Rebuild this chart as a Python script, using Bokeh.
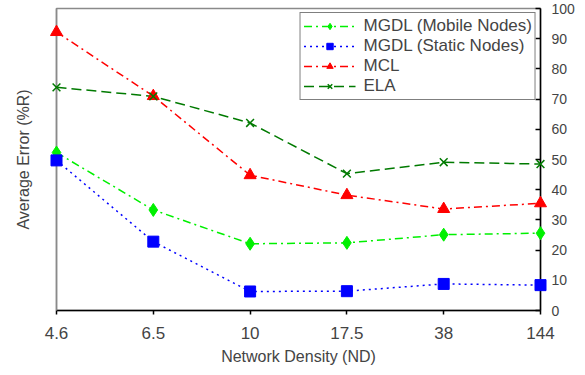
from bokeh.plotting import figure
from bokeh.models import Range1d, LinearAxis, FixedTicker, Legend, LegendItem
from bokeh.embed import file_html
from bokeh.resources import INLINE

density_labels = ["4.6", "6.5", "10", "17.5", "38", "144"]
mgdl_mobile = [52.3, 33.3, 22.1, 22.4, 25.1, 25.6]
mgdl_static = [49.7, 22.8, 6.3, 6.4, 8.8, 8.4]
mcl = [92.2, 71.0, 44.8, 38.2, 33.6, 35.5]
ela = [73.9, 70.9, 62.1, 45.3, 49.1, 48.5]
y_ticks = [0, 10, 20, 30, 40, 50, 60, 70, 80, 90, 100]

xs = list(range(len(density_labels)))
FONT = "Liberation Sans"

p = figure(width=577, height=367, output_backend="svg", toolbar_location=None,
           x_range=Range1d(0, len(density_labels) - 1), y_range=Range1d(0, 100),
           min_border_left=56, min_border_right=35, min_border_top=8, min_border_bottom=55)
p.grid.visible = False
p.outline_line_color = "#8a8a8a"
p.outline_line_width = 1.5
p.background_fill_color = "white"
p.border_fill_color = "white"

# bottom axis
xa = p.xaxis[0]
xa.ticker = FixedTicker(ticks=xs)
xa.major_label_overrides = {i: lab for i, lab in enumerate(density_labels)}
xa.axis_label = "Network Density (ND)"
xa.axis_label_text_font = FONT
xa.axis_label_text_font_style = "normal"
xa.axis_label_text_font_size = "16px"
xa.axis_label_standoff = 6
xa.major_label_text_font = FONT
xa.major_label_text_font_size = "17px"
xa.major_label_standoff = 12
xa.major_tick_in = 0
xa.major_tick_out = 4
xa.minor_tick_out = 0
xa.minor_tick_in = 0
xa.axis_line_color = "black"
xa.axis_line_width = 1.5
xa.major_tick_line_width = 1.5

# left axis: label only
ya = p.yaxis[0]
ya.ticker = FixedTicker(ticks=[])
ya.axis_label = "Average Error (%R)"
ya.axis_label_text_font = FONT
ya.axis_label_text_font_style = "normal"
ya.axis_label_text_font_size = "16px"
ya.axis_label_standoff = 25
ya.axis_line_color = "#8a8a8a"
ya.axis_line_width = 1.5
ya.major_tick_out = 0
ya.minor_tick_out = 0

# right axis with values
ra = LinearAxis(ticker=FixedTicker(ticks=y_ticks))
ra.major_label_text_font = FONT
ra.major_label_text_font_size = "14px"
ra.major_label_standoff = 11
ra.major_tick_in = 5
ra.major_tick_out = 0
ra.minor_tick_in = 0
ra.minor_tick_out = 0
ra.axis_line_color = "black"
ra.axis_line_width = 1.5
ra.major_tick_line_width = 1.5
p.add_layout(ra, "right")

series = [
    ("MGDL (Mobile Nodes)", mgdl_mobile, "#00f000", "8 4 2 4", "diamond", 13),
    ("MGDL (Static Nodes)", mgdl_static, "#0000ff", "2 4", "square", 11),
    ("MCL", mcl, "#ff0000", "8 4 2 4", "triangle", 12),
    ("ELA", ela, "#007a00", "10 5", "x", 11),
]

items = []
for name, vals, col, dash, marker, size in series:
    r1 = p.line(xs, vals, line_color=col, line_dash=dash, line_width=1.5)
    if marker == "x":
        r2 = p.scatter(xs, vals, marker=marker, size=size, line_color=col, line_width=1.5,
                       level="overlay")
    else:
        r2 = p.scatter(xs, vals, marker=marker, size=size, fill_color=col, line_color=col,
                       level="overlay")
    items.append(LegendItem(label=name, renderers=[r1, r2]))

legend = Legend(items=items, location="top_right")
legend.label_text_font = FONT
legend.label_text_font_size = "17px"
legend.glyph_width = 52
legend.glyph_height = 16
legend.label_height = 16
legend.label_standoff = 8
legend.spacing = -4
legend.padding = 3
legend.margin = 4
legend.border_line_color = "black"
legend.border_line_width = 1
legend.background_fill_alpha = 1.0
p.add_layout(legend)

open("out.html", "w").write(file_html(p, INLINE))
